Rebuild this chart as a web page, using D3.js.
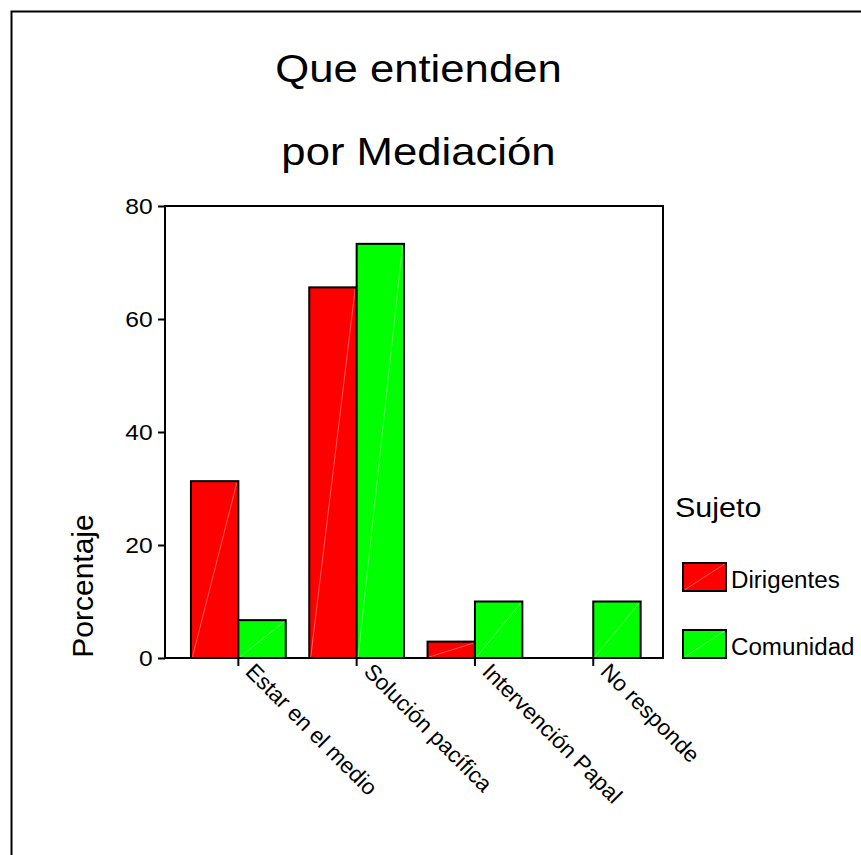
<!DOCTYPE html>
<html>
<head>
<meta charset="utf-8">
<script src="https://cdn.jsdelivr.net/npm/d3@7"></script>
<style>
  html, body { margin: 0; padding: 0; background: #fff; }
  svg { display: block; }
  text { font-family: "Liberation Sans", Arial, sans-serif; fill: #000; }
</style>
</head>
<body>
<svg id="chart" width="861" height="855"></svg>
<script>
// Categories and percentages per group
const categories = ["Estar en el medio", "Solución pacífica", "Intervención Papal", "No responde"];
const groups = ["Dirigentes", "Comunidad"];
const dirigentes = [31.3, 65.6, 2.9, 0];
const comunidad = [6.7, 73.3, 10.0, 10.0];
const yTicks = [0, 20, 40, 60, 80];
const colors = ["#ff0000", "#00ff00"];
const titleLines = ["Que entienden", "por Mediación"];

const rows = categories.map((c, i) => ({ cat: c, values: [dirigentes[i], comunidad[i]] }));

const svg = d3.select("#chart");

// outer frame
svg.append("rect")
  .attr("x", 11.5).attr("y", 11.5)
  .attr("width", 1000).attr("height", 1000)
  .attr("fill", "none").attr("stroke", "#000").attr("stroke-width", 2);

const plot = { left: 165, right: 663, top: 206, bottom: 658 };

const y = d3.scaleLinear().domain([0, 80]).range([plot.bottom, plot.top]);
const x = d3.scaleBand().domain(categories).range([179.2, 652.4]).padding(0);
const xs = d3.scaleBand().domain(groups).range([0, x.bandwidth()]).paddingInner(0).paddingOuter(0.248);

// title (slightly wide lettering)
svg.append("g").selectAll("text").data(titleLines).join("text")
  .attr("transform", (d, i) => `translate(418.5,${82 + i * 83}) scale(1.12,1)`)
  .attr("text-anchor", "middle")
  .attr("font-size", 39)
  .text(d => d);

// bars
const g = svg.append("g");
const grp = g.selectAll("g.cat").data(rows).join("g")
  .attr("class", "cat")
  .attr("transform", d => `translate(${x(d.cat)},0)`);

const bars = grp.selectAll("g.bar").data(d => d.values.map((v, j) => ({ key: groups[j], v, j })))
  .join("g").attr("class", "bar");

bars.append("rect")
  .attr("x", d => xs(d.key))
  .attr("y", d => y(d.v))
  .attr("width", xs.bandwidth())
  .attr("height", d => y(0) - y(d.v))
  .attr("fill", d => colors[d.j])
  .attr("stroke", "#000").attr("stroke-width", 2);

// faint diagonal highlight inside each bar
bars.filter(d => d.v > 0).append("line")
  .attr("x1", d => xs(d.key) + 1.5).attr("y1", y(0) - 1)
  .attr("x2", d => xs(d.key) + xs.bandwidth() - 1.5).attr("y2", d => y(d.v) + 1.5)
  .attr("stroke", "#fff").attr("stroke-opacity", 0.45).attr("stroke-width", 0.8);

// plot frame
svg.append("rect")
  .attr("x", plot.left).attr("y", plot.top)
  .attr("width", plot.right - plot.left).attr("height", plot.bottom - plot.top)
  .attr("fill", "none").attr("stroke", "#000").attr("stroke-width", 2);

// y axis
const yAxis = svg.append("g")
  .attr("transform", `translate(${plot.left},0)`)
  .call(d3.axisLeft(y).tickValues(yTicks).tickSize(7).tickPadding(4).tickFormat(d3.format("d")));
yAxis.select(".domain").remove();
yAxis.selectAll(".tick line").attr("stroke", "#000").attr("stroke-width", 2);
yAxis.selectAll(".tick text")
  .attr("font-size", 22).attr("font-family", "Liberation Sans, Arial, sans-serif").attr("fill", "#000")
  .attr("transform", "scale(1.12,1)");

// x axis
const xAxis = svg.append("g")
  .attr("transform", `translate(0,${plot.bottom})`)
  .call(d3.axisBottom(x).tickSize(8).tickSizeOuter(0));
xAxis.select(".domain").remove();
xAxis.selectAll(".tick line").attr("stroke", "#000").attr("stroke-width", 2);
xAxis.selectAll(".tick text")
  .attr("font-size", 22.5).attr("font-family", "Liberation Sans, Arial, sans-serif").attr("fill", "#000")
  .attr("text-anchor", "start")
  .attr("x", 0).attr("y", 0).attr("dy", 0)
  .attr("transform", "translate(6,15) rotate(45)");

// y axis title
svg.append("text")
  .attr("transform", "translate(93,586) rotate(-90)")
  .attr("text-anchor", "middle")
  .attr("font-size", 30)
  .text("Porcentaje");

// legend
const legend = svg.append("g");
legend.append("text").attr("transform", "translate(675,517) scale(1.09,1)").attr("font-size", 28).text("Sujeto");
const li = legend.selectAll("g.item").data(groups).join("g")
  .attr("class", "item")
  .attr("transform", (d, i) => `translate(683,${563 + i * 67})`);
li.append("rect").attr("width", 43).attr("height", 28)
  .attr("fill", (d, i) => colors[i]).attr("stroke", "#000").attr("stroke-width", 2);
li.append("line").attr("x1", 1.5).attr("y1", 27).attr("x2", 41.5).attr("y2", 1)
  .attr("stroke", "#fff").attr("stroke-opacity", 0.45).attr("stroke-width", 0.8);
li.append("text").attr("transform", "translate(48,25) scale(1.05,1)").attr("font-size", 23).text(d => d);
</script>
</body>
</html>
